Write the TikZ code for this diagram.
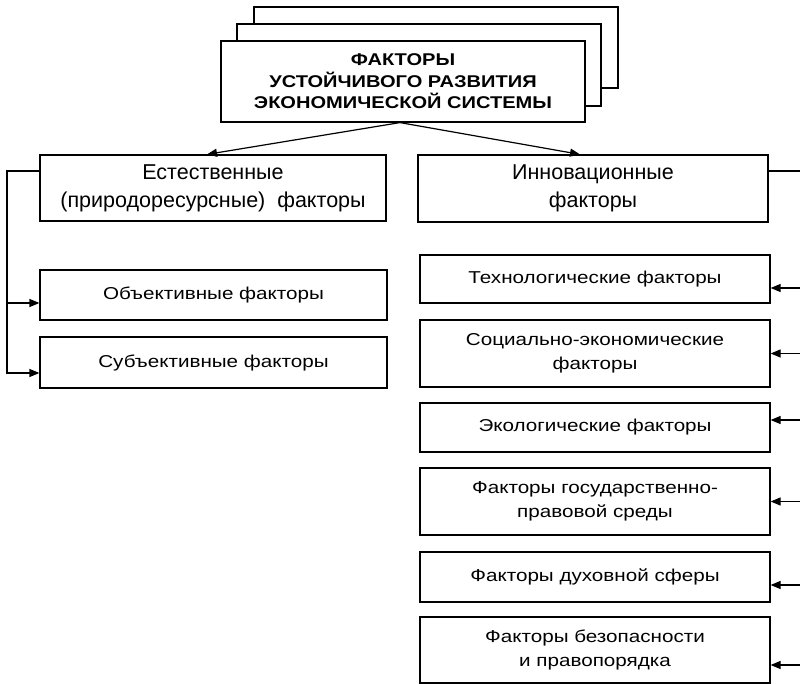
\documentclass[tikz,border=0pt]{standalone}
\usepackage{fontspec}
\setmainfont{Liberation Sans}
\newfontfamily\widefont[FakeStretch=1.2]{Liberation Sans}
\newfontfamily\wideboldfont[FakeStretch=1.18]{Liberation Sans Bold}
\usetikzlibrary{arrows.meta}
\begin{document}
\begin{tikzpicture}[x=1pt,y=-1pt,
  line width=1.2pt,
  box/.style={draw, fill=white, inner sep=0pt, align=center},
  txt/.style={font=\fontsize{17.2}{24.5}\widefont},
  bigtxt/.style={font=\fontsize{21.5}{28}\selectfont},
  headtxt/.style={font=\fontsize{17}{21.5}\wideboldfont},
  arr/.style={-{Triangle[length=10pt,width=8pt]}}]
\useasboundingbox (0,0) rectangle (800,684);

% stacked title sheets
\node[box, minimum width=364pt, minimum height=81pt] (sheetb) at (436,47.5) {};
\node[box, minimum width=364pt, minimum height=82pt] (sheetm) at (419,65) {};
\node[box, headtxt, minimum width=364pt, minimum height=81pt] (title) at (403,81.5)
  {ФАКТОРЫ\\УСТОЙЧИВОГО РАЗВИТИЯ\\ЭКОНОМИЧЕСКОЙ СИСТЕМЫ};

% left column
\node[box, bigtxt, minimum width=346pt, minimum height=66pt] (nat) at (213,188)
  {Естественные\\(природоресурсные)\ \ факторы};
\node[box, txt, minimum width=347pt, minimum height=50pt] (obj) at (213.5,295)
  {Объективные факторы};
\node[box, txt, minimum width=347pt, minimum height=51pt] (subj) at (213.5,362.5)
  {Субъективные факторы};

% right column
\node[box, bigtxt, minimum width=350pt, minimum height=67pt] (inno) at (593,188.5)
  {Инновационные\\факторы};
\node[box, txt, minimum width=350pt, minimum height=48pt] (tech) at (595,279)
  {Технологические факторы};
\node[box, txt, minimum width=350pt, minimum height=67pt] (soc) at (595,353.5)
  {Социально-экономические\\факторы};
\node[box, txt, minimum width=350pt, minimum height=49pt] (eco) at (595,427.5)
  {Экологические факторы};
\node[box, txt, minimum width=350pt, minimum height=67pt] (gos) at (595,501.5)
  {Факторы государственно-\\правовой среды};
\node[box, txt, minimum width=350pt, minimum height=50pt] (duh) at (595,577)
  {Факторы духовной сферы};
\node[box, txt, minimum width=350pt, minimum height=66pt] (bez) at (595,650)
  {Факторы безопасности\\и правопорядка};

% branches from the title
\draw[arr] ([xshift=-3pt]title.south) -- ([xshift=-6pt]nat.north);
\draw[arr] ([xshift=-3pt]title.south) -- ([xshift=-13pt]inno.north);

% left bracket
\coordinate (lx) at (7,373);
\coordinate (objin) at ([yshift=-8pt]obj.west);
\draw[arr] ([yshift=17pt]nat.west) -| (lx) -- ([yshift=-10.5pt]subj.west);
\draw[arr] (objin -| lx) -- (objin);

% right bracket
\coordinate (rx) at (800,0);
\coordinate (innoout) at ([yshift=17.5pt]inno.east);
\draw (innoout) -- (innoout -| rx);
\coordinate (techin) at ([yshift=-9pt]tech.east);
\coordinate (socin) at (soc.east);
\coordinate (ecoin) at ([yshift=7.5pt]eco.east);
\coordinate (gosin) at (gos.east);
\coordinate (duhin) at ([yshift=-8pt]duh.east);
\coordinate (bezin) at ([yshift=-15pt]bez.east);
\foreach \p in {techin,socin,ecoin,gosin,duhin,bezin}
  \draw[arr] (\p -| rx) -- (\p);
\end{tikzpicture}
\end{document}
